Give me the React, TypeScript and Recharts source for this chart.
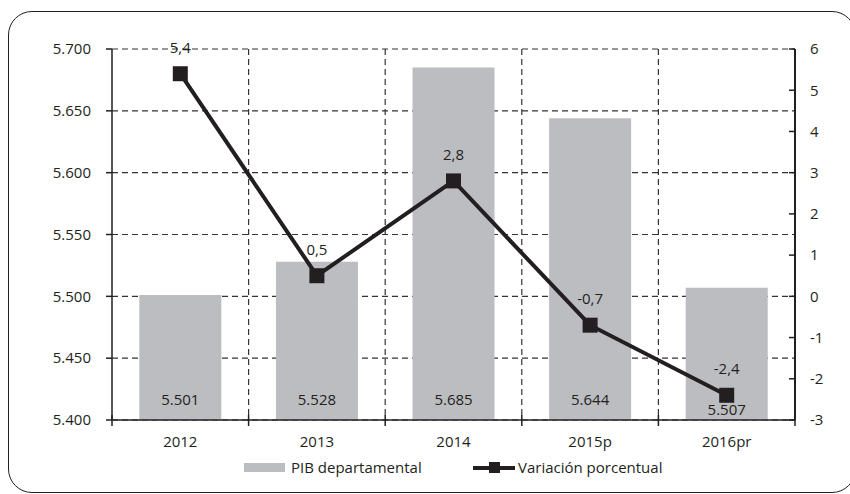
import React from 'react';
import {
  ComposedChart, Bar, Line, XAxis, YAxis, CartesianGrid, Legend, LabelList,
} from 'recharts';

const categories = ['2012', '2013', '2014', '2015p', '2016pr'];
const pibValues = [5.501, 5.528, 5.685, 5.644, 5.507];
const variationValues = [5.4, 0.5, 2.8, -0.7, -2.4];
const leftTicks = [5.4, 5.45, 5.5, 5.55, 5.6, 5.65, 5.7];
const rightTicks = [-3, -2, -1, 0, 1, 2, 3, 4, 5, 6];

const data = categories.map((c, i) => ({ name: c, pib: pibValues[i], variacion: variationValues[i] }));

const FONT = '"Open Sans", sans-serif';
const TEXT = '#231f20';
const BAR = '#bcbdc0';
const FS = 15;

const XTick = (props: any) => {
  const { x, y, payload, index, visibleTicksCount, width } = props;
  const half = (width ?? 683) / (visibleTicksCount || 5) / 2;
  const axisY = y - 16;
  return (
    <g>
      {index === 0 && <line x1={x - half} x2={x - half} y1={axisY - 5} y2={axisY + 6} stroke={TEXT} strokeWidth={1.5} />}
      <line x1={x + half} x2={x + half} y1={axisY - 5} y2={axisY + 6} stroke={TEXT} strokeWidth={1.5} />
      <text x={x} y={y} dy="0.71em" textAnchor="middle" fill={TEXT} fontSize={FS} fontFamily={FONT}>{payload.value}</text>
    </g>
  );
};

const RightTick = (props: any) => {
  const { x, y, payload } = props;
  const axisX = x - 15;
  return (
    <g>
      <line x1={axisX - 6} x2={axisX} y1={y} y2={y} stroke={TEXT} strokeWidth={1.5} />
      <text x={x} y={y} dy="0.355em" textAnchor="start" fill={TEXT} fontSize={FS} fontFamily={FONT}>{payload.value}</text>
    </g>
  );
};

const SquareDot = (props: any) => {
  const { cx, cy } = props;
  if (cx == null || cy == null) return null;
  const s = 15;
  return <rect x={cx - s / 2} y={cy - s / 2} width={s} height={s} fill={TEXT} />;
};

const lineLabel = (props: any) => {
  const { x, y, value } = props;
  return (
    <text x={x} y={y - 21} textAnchor="middle" fill={TEXT} fontSize={FS} fontFamily={FONT}>
      {Number(value).toFixed(1).replace('.', ',')}
    </text>
  );
};

const barLabel = (props: any) => {
  const { x, y, width, height, value, index } = props;
  const bottom = y + height;
  const off = index === categories.length - 1 ? 5 : 15;
  return (
    <text x={x + width / 2} y={bottom - off} textAnchor="middle" fill={TEXT} fontSize={FS} fontFamily={FONT}>
      {Number(value).toFixed(3)}
    </text>
  );
};

const LegendContent = () => (
  <div style={{ position: 'relative', height: 24, fontFamily: FONT, fontSize: FS, color: TEXT }}>
    <div style={{ position: 'absolute', left: 244, top: 8, width: 41, height: 9, background: BAR }} />
    <span style={{ position: 'absolute', left: 291, top: 0, lineHeight: '24px', whiteSpace: 'nowrap' }}>PIB departamental</span>
    <div style={{ position: 'absolute', left: 473, top: 10.5, width: 42, height: 4, background: TEXT }} />
    <div style={{ position: 'absolute', left: 488.5, top: 7, width: 11, height: 11, background: TEXT }} />
    <span style={{ position: 'absolute', left: 518, top: 0, lineHeight: '24px', whiteSpace: 'nowrap' }}>Variación porcentual</span>
  </div>
);

export default function App() {
  return (
    <div style={{ position: 'absolute', left: 0, top: 0, width: 850, height: 494, background: '#fff', overflow: 'hidden' }}>
      <div style={{
        position: 'absolute', left: 8, top: 11, width: 848, height: 482,
        border: `1.5px solid ${TEXT}`, borderRadius: 24, pointerEvents: 'none', boxSizing: 'border-box',
      }} />
      <ComposedChart
        width={850}
        height={494}
        data={data}
        margin={{ top: 49, right: 15, bottom: 15, left: 0 }}
        barCategoryGap="20%"
      >
        <CartesianGrid
          yAxisId="left"
          stroke="#333"
          strokeDasharray="6 4"
          strokeWidth={1.2}
          verticalCoordinatesGenerator={({ offset }: any) =>
            categories.slice(1).map((_, i) => offset.left + ((i + 1) * offset.width) / categories.length)
          }
        />
        <XAxis
          dataKey="name"
          height={35}
          tickLine={false}
          tickSize={0}
          tickMargin={16}
          axisLine={{ stroke: TEXT, strokeWidth: 1.5 }}
          tick={<XTick />}
          interval={0}
        />
        <YAxis
          yAxisId="left"
          orientation="left"
          width={112}
          domain={[5.4, 5.7]}
          ticks={leftTicks}
          tickFormatter={(v: number) => v.toFixed(3)}
          axisLine={{ stroke: TEXT, strokeWidth: 1.5 }}
          tickLine={{ stroke: TEXT, strokeWidth: 1.5 }}
          tickSize={6}
          tickMargin={15}
          tick={{ fill: TEXT, fontSize: FS, fontFamily: FONT }}
          allowDataOverflow
        />
        <YAxis
          yAxisId="right"
          orientation="right"
          width={40}
          domain={[-3, 6]}
          ticks={rightTicks}
          axisLine={{ stroke: TEXT, strokeWidth: 2 }}
          tickLine={false}
          tickSize={0}
          tickMargin={15}
          tick={<RightTick />}
          allowDataOverflow
        />
        <Legend verticalAlign="bottom" height={24} content={<LegendContent />} />
        <Bar yAxisId="left" dataKey="pib" fill={BAR} isAnimationActive={false}>
          <LabelList dataKey="pib" content={barLabel} />
        </Bar>
        <Line
          yAxisId="right"
          dataKey="variacion"
          stroke={TEXT}
          strokeWidth={4}
          dot={<SquareDot />}
          activeDot={false}
          isAnimationActive={false}
          label={lineLabel}
        />
      </ComposedChart>
    </div>
  );
}
